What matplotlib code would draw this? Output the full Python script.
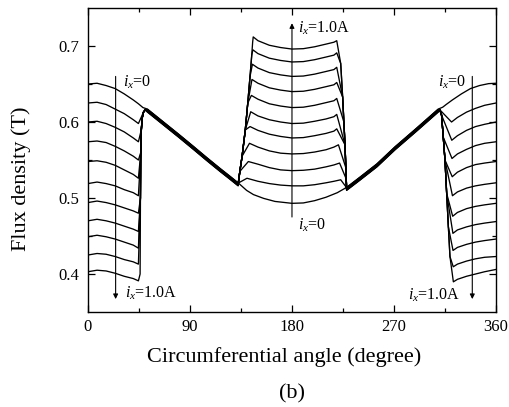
import matplotlib
matplotlib.use('Agg')
import matplotlib.pyplot as plt

plt.rcParams['font.family'] = 'Liberation Serif'
plt.rcParams['mathtext.fontset'] = 'custom'
plt.rcParams['mathtext.rm'] = 'Liberation Serif'
plt.rcParams['mathtext.it'] = 'Liberation Serif:italic'

# exciting current ix for the curves that dip/rise (ix = 0 is kept apart)
currents = [0.1, 0.2, 0.3, 0.4, 0.5, 0.6, 0.7, 0.8, 0.9, 1.0]

# ix = 0 curve
zero_left_angles = [0, 8, 16, 24, 32, 40, 44.5, 48.5]
zero_left_flux = [0.650, 0.651, 0.648, 0.644, 0.637, 0.629, 0.624, 0.619]
zero_mid_angles = [140, 146, 155, 165, 180, 190, 200, 210, 220]
zero_mid_flux = [0.510, 0.5045, 0.4995, 0.4955, 0.493, 0.4935, 0.4965, 0.501, 0.507]
zero_right_angles = [313, 316, 321.5, 329.5, 337.5, 345.5, 353.5, 360]
zero_right_flux = [0.6195, 0.623, 0.629, 0.637, 0.644, 0.648, 0.6505, 0.651]

# segments shared by all curves (the thick bundles)
decline_angles = [52.5, 60, 70, 80, 93, 105, 116.5, 125, 132.5]
decline_flux = [0.617, 0.608, 0.596, 0.584, 0.568, 0.553, 0.539, 0.529, 0.520]
rise_angles = [228.2, 240, 255, 271, 290, 309]
rise_flux = [0.514, 0.5275, 0.545, 0.5675, 0.592, 0.617]
bundle_shift = [0.0, -0.0004, -0.0008, -0.0012, -0.0016, -0.002, -0.0024, -0.0028, -0.0032, -0.0036, -0.004]

# left pole region, one row per current
left_angles = [0, 8, 16, 24, 32, 40, 44.5]
left_flux = [
    [0.625, 0.626, 0.623, 0.617, 0.611, 0.603, 0.598],
    [0.600, 0.601, 0.598, 0.593, 0.587, 0.579, 0.574],
    [0.574, 0.575, 0.573, 0.568, 0.562, 0.555, 0.550],
    [0.548, 0.549, 0.547, 0.543, 0.537, 0.531, 0.526],
    [0.519, 0.521, 0.519, 0.516, 0.511, 0.507, 0.503],
    [0.494, 0.496, 0.494, 0.491, 0.487, 0.483, 0.480],
    [0.470, 0.472, 0.470, 0.467, 0.463, 0.459, 0.456],
    [0.449, 0.451, 0.449, 0.446, 0.442, 0.438, 0.434],
    [0.425, 0.427, 0.426, 0.423, 0.419, 0.416, 0.413],
    [0.403, 0.405, 0.404, 0.401, 0.397, 0.394, 0.391],
]
left_edge_angles = [46.0, 46.3, 46.6, 47.1, 47.8, 49.0, 50.5]
left_edge_flux = [0.40, 0.50, 0.56, 0.59, 0.605, 0.613, 0.616]

# middle pole region
mid_edge_angles = [134, 136, 138.8, 141, 143, 144.5, 145.3]
mid_edge_flux = [0.535, 0.555, 0.5895, 0.625, 0.660, 0.688, 0.705]
mid_knee_angles = [140.3, 141.5, 142.5, 143.0, 143.6, 144.2, 144.7, 145.1, 145.5, 145.8]
mid_knee_flux = [0.526, 0.548, 0.572, 0.594, 0.6135, 0.635, 0.656, 0.676, 0.695, 0.712]
mid_angles = [150, 160, 170, 180, 190, 200, 210, 217]
mid_flux = [
    [0.522, 0.519, 0.517, 0.516, 0.516, 0.5175, 0.520, 0.522],
    [0.5445, 0.540, 0.537, 0.536, 0.5365, 0.538, 0.541, 0.5435],
    [0.567, 0.562, 0.559, 0.558, 0.5585, 0.5605, 0.5635, 0.567],
    [0.589, 0.584, 0.581, 0.579, 0.5795, 0.582, 0.585, 0.588],
    [0.608, 0.603, 0.600, 0.598, 0.5985, 0.601, 0.604, 0.607],
    [0.630, 0.624, 0.621, 0.619, 0.6195, 0.622, 0.6255, 0.628],
    [0.651, 0.645, 0.642, 0.640, 0.6405, 0.643, 0.6465, 0.649],
    [0.671, 0.665, 0.662, 0.660, 0.6605, 0.663, 0.6665, 0.669],
    [0.690, 0.684, 0.681, 0.679, 0.6795, 0.682, 0.6855, 0.688],
    [0.707, 0.701, 0.698, 0.696, 0.6965, 0.699, 0.7025, 0.705],
]
mid_end_angles = [223.0, 222.0, 221.0, 219.5, 219.5, 219.5, 219.5, 219.5, 219.5, 219.5]
mid_end_flux = [0.524, 0.546, 0.570, 0.591, 0.610, 0.631, 0.652, 0.672, 0.691, 0.707]
mid_drop_angles = [221.8, 223.0, 224.7, 225.8, 226.8, 227.5, 227.9]
mid_drop_flux = [0.700, 0.677, 0.633, 0.600, 0.570, 0.540, 0.525]

# right pole region
right_drop_angles = [310.5, 312, 313.5, 315, 316.5, 318, 319.4, 320.5]
right_drop_flux = [0.616, 0.609, 0.580, 0.550, 0.506, 0.462, 0.423, 0.395]
dip_angles = [320.8, 321.0, 321.2, 321.4, 321.6, 321.8, 322.0, 322.1, 322.3, 322.4]
dip_flux = [0.600, 0.576, 0.552, 0.528, 0.503, 0.476, 0.4535, 0.431, 0.4095, 0.3897]
right_angles = [326, 334, 342, 350, 360]
right_flux = [
    [0.606, 0.613, 0.618, 0.622, 0.625],
    [0.582, 0.589, 0.594, 0.597, 0.600],
    [0.558, 0.564, 0.569, 0.572, 0.574],
    [0.534, 0.540, 0.544, 0.546, 0.548],
    [0.508, 0.513, 0.516, 0.518, 0.520],
    [0.481, 0.486, 0.489, 0.491, 0.493],
    [0.458, 0.462, 0.465, 0.467, 0.469],
    [0.435, 0.439, 0.442, 0.444, 0.446],
    [0.413, 0.417, 0.420, 0.422, 0.423],
    [0.393, 0.397, 0.400, 0.403, 0.406],
]


def curve_points(i):
    # i indexes currents; bundle offset uses i + 1
    s = bundle_shift[i + 1]
    ang = list(left_angles)
    val = list(left_flux[i])
    low = left_flux[i][-1]
    for a, v in zip(left_edge_angles, left_edge_flux):
        if v > low + 0.008:
            ang.append(a)
            val.append(v)
    ang += decline_angles
    val += [v + s for v in decline_flux]
    for a, v in zip(mid_edge_angles, mid_edge_flux):
        if v < mid_knee_flux[i] - 0.002:
            ang.append(a)
            val.append(v)
    ang.append(mid_knee_angles[i])
    val.append(mid_knee_flux[i])
    ang += mid_angles
    val += mid_flux[i]
    ang.append(mid_end_angles[i])
    val.append(mid_end_flux[i])
    for a, v in zip(mid_drop_angles, mid_drop_flux):
        if v < mid_end_flux[i] - 0.012 and a > mid_end_angles[i]:
            ang.append(a)
            val.append(v)
    ang += rise_angles
    val += [v + s for v in rise_flux]
    for a, v in zip(right_drop_angles, right_drop_flux):
        if v > dip_flux[i] + 0.012:
            ang.append(a)
            val.append(v)
    ang.append(dip_angles[i])
    val.append(dip_flux[i])
    ang += right_angles
    val += right_flux[i]
    return ang, val


fig = plt.figure(figsize=(5.1, 4.07), dpi=100)
ax = fig.add_axes([0.1725, 0.2334, 0.8, 0.7469])

lw = 0.95
zero_ang = zero_left_angles + decline_angles + zero_mid_angles + rise_angles + zero_right_angles
zero_val = zero_left_flux + decline_flux + zero_mid_flux + rise_flux + zero_right_flux
ax.plot(zero_ang, zero_val, color='black', lw=lw)
for i in range(len(currents)):
    a, v = curve_points(i)
    ax.plot(a, v, color='black', lw=lw)

ax.set_xlim(0, 360)
ax.set_ylim(0.35, 0.75)
ax.set_xticks([0, 90, 180, 270, 360])
ax.set_xticks([45, 135, 225, 315], minor=True)
ax.set_yticks([0.4, 0.5, 0.6, 0.7])
ax.set_yticks([0.45, 0.55, 0.65], minor=True)
ax.set_xticklabels(['0', '90', '180', '270', '360'])
ax.set_yticklabels(['0.4', '0.5', '0.6', '0.7'])
ax.tick_params(which='both', direction='in', top=True, right=True, width=0.9)
ax.tick_params(which='major', length=5, labelsize=12)
ax.tick_params(which='minor', length=3)
ax.tick_params(axis='y', pad=6)
ax.tick_params(axis='x', pad=5)
for sp in ax.spines.values():
    sp.set_linewidth(1.0)

# arrows showing direction of increasing ix
arrow = dict(arrowstyle='-|>', lw=0.8, color='black', mutation_scale=7, shrinkA=0, shrinkB=0)
ax.annotate('', xy=(24.4, 0.367), xytext=(24.4, 0.660), arrowprops=arrow)
ax.annotate('', xy=(180, 0.730), xytext=(180, 0.475), arrowprops=arrow)
ax.annotate('', xy=(339.1, 0.367), xytext=(339.1, 0.660), arrowprops=arrow)

fs = 11.5
ax.text(30.5, 0.646, r'$i_x$=0', fontsize=fs, va='baseline')
ax.text(32.6, 0.369, r'$i_x$=1.0A', fontsize=fs, va='baseline')
ax.text(185.6, 0.717, r'$i_x$=1.0A', fontsize=fs, va='baseline')
ax.text(185.6, 0.458, r'$i_x$=0', fontsize=fs, va='baseline')
ax.text(308.5, 0.646, r'$i_x$=0', fontsize=fs, va='baseline')
ax.text(282.6, 0.366, r'$i_x$=1.0A', fontsize=fs, va='baseline')

fig.text(0.558, 0.123, 'Circumferential angle (degree)', fontsize=16, ha='center', va='center')
fig.text(0.041, 0.56, 'Flux density (T)', fontsize=16, ha='center', va='center', rotation=90)
fig.text(0.5725, 0.032, '(b)', fontsize=16, ha='center', va='center')

fig.savefig('out.png', dpi=100)
